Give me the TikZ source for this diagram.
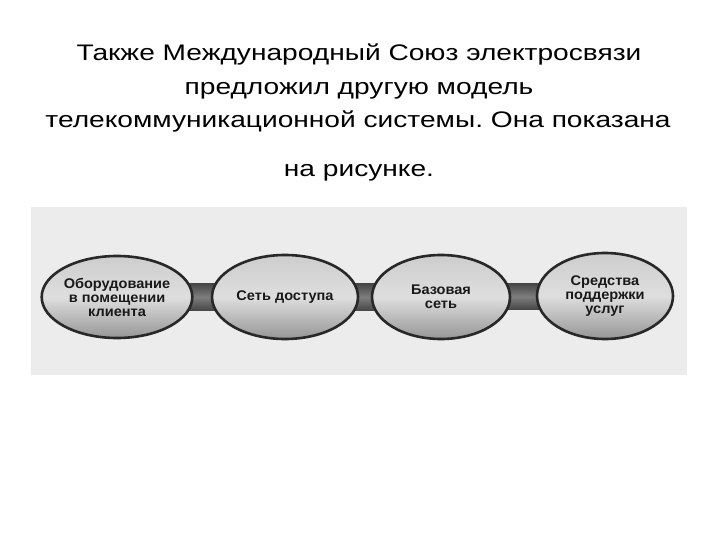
\documentclass[tikz,border=0pt]{standalone}
\usepackage{fontspec}
\setmainfont{Liberation Sans}
\frenchspacing
\newfontfamily\titlefont[FakeStretch=1.25]{Liberation Sans}
\newfontfamily\boxfont[FakeStretch=1.04]{Liberation Sans Bold}
\definecolor{bgpanel}{RGB}{236,236,236}
\definecolor{rimcol}{RGB}{40,40,40}
\definecolor{txtcol}{RGB}{25,25,25}
\definecolor{elltop}{RGB}{205,205,205}
\definecolor{ellmid}{RGB}{222,222,222}
\definecolor{ellbot}{RGB}{150,150,150}
\definecolor{bardark}{RGB}{70,70,70}
\definecolor{barlight}{RGB}{125,125,125}
\usetikzlibrary{shapes.geometric}
\pgfdeclarelayer{back}
\pgfdeclarelayer{mid}
\pgfsetlayers{back,mid,main}
\tikzset{
  titletext/.style={anchor=base, inner sep=0pt, font=\titlefont\fontsize{22.5bp}{27bp}\selectfont, text=black},
  oval/.style={ellipse, draw=rimcol, line width=2.6bp, inner sep=0pt,
    top color=elltop, bottom color=ellbot, middle color=ellmid,
    align=center, text=txtcol, font=\boxfont\fontsize{14bp}{14bp}\selectfont},
  linkbar/.style={top color=bardark, bottom color=bardark, middle color=barlight}
}
\begin{document}
\begin{tikzpicture}[x=1bp,y=-1bp]
\useasboundingbox (0,0) rectangle (720,540);
\begin{pgfonlayer}{back}
\fill[white] (0,0) rectangle (720,540);
\fill[bgpanel] (31,207) rectangle (687,375);
\end{pgfonlayer}
% title
\node[titletext] (t1) at (359,61) {Также Международный Союз электросвязи};
\node[titletext] (t2) at (359,95) {предложил другую модель};
\node[titletext] (t3) at (358,128) {телекоммуникационной системы. Она показана};
\node[titletext] (t4) at (359,177) {на рисунке.};
% ovals
\node[oval, minimum width=140bp, minimum height=82bp] (a) at (117,297) {Оборудование\\в помещении\\клиента};
\node[oval, minimum width=146bp, minimum height=84bp] (b) at (285,297) {Сеть доступа};
\node[oval, minimum width=138bp, minimum height=84bp] (c) at (441,297) {Базовая\\сеть};
\node[oval, minimum width=136bp, minimum height=86bp] (d) at (605,296) {Средства\\поддержки\\услуг};
% bars
\begin{pgfonlayer}{mid}
\shade[linkbar] ([yshift=13.5bp]a.center) rectangle ([yshift=-13.5bp]b.center);
\shade[linkbar] ([yshift=13.5bp]b.center) rectangle ([yshift=-13.5bp]c.center);
\shade[linkbar] ([yshift=13.5bp]c.center) rectangle ([yshift=-13.5bp]d.center);
\end{pgfonlayer}
\end{tikzpicture}
\end{document}
